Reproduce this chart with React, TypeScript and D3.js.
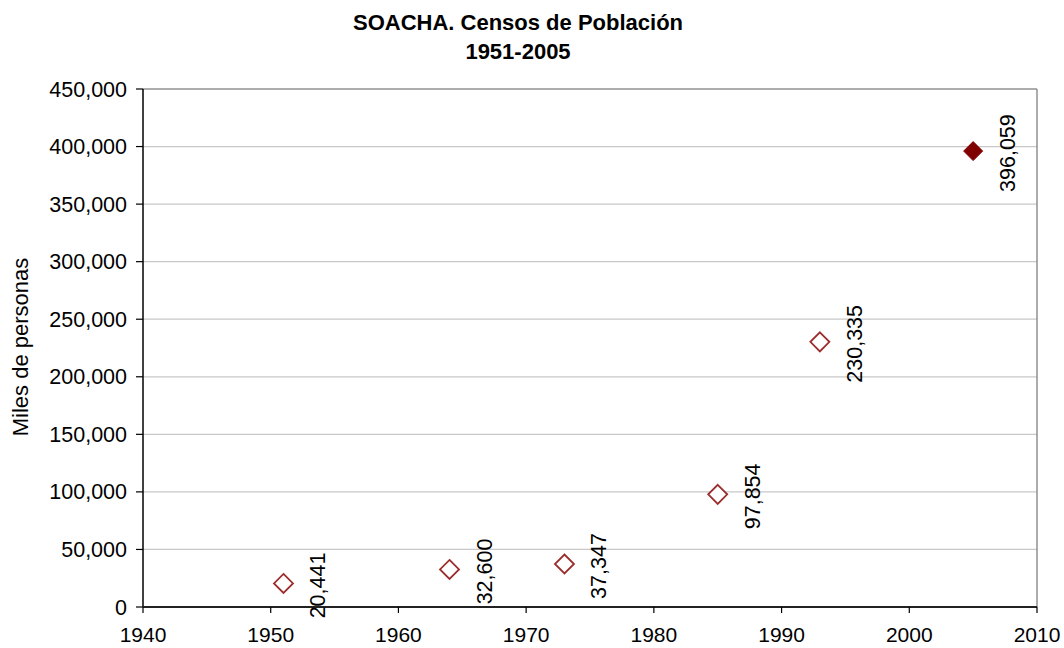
import React from "react";
import * as d3 from "d3";

const years = [1951, 1964, 1973, 1985, 1993, 2005];
const population = [20441, 32600, 37347, 97854, 230335, 396059];
const highlighted = [false, false, false, false, false, true];
const xTicks = [1940, 1950, 1960, 1970, 1980, 1990, 2000, 2010];
const yTicks = [0, 50000, 100000, 150000, 200000, 250000, 300000, 350000, 400000, 450000];
const titleLines = ["SOACHA. Censos de Población", "1951-2005"];
const yAxisTitle = "Miles de personas";

export default function App() {
  const W = 1064, H = 648;
  const left = 143, right = 1037, top = 89, bottom = 607;
  const x = d3.scaleLinear().domain([1940, 2010]).range([left, right]);
  const y = d3.scaleLinear().domain([0, 450000]).range([bottom, top]);
  const fmt = d3.format(",");
  const font = "Liberation Sans, Arial, sans-serif";
  const dpath = (cx: number, cy: number, r: number) =>
    `M${cx},${cy - r}L${cx + r},${cy}L${cx},${cy + r}L${cx - r},${cy}Z`;
  return (
    <svg width={W} height={H} style={{ position: "absolute", left: 0, top: 0, background: "#fff" }} fontFamily={font}>
      <rect x={0} y={0} width={W} height={H} fill="#fff" />
      {titleLines.map((t, i) => (
        <text key={i} x={518} y={30 + i * 29} textAnchor="middle" fontWeight="bold" fontSize={22} fill="#000">{t}</text>
      ))}
      {yTicks.map((v) => (
        <g key={v}>
          {v > 0 && <line x1={left} x2={right} y1={y(v)} y2={y(v)} stroke={v === 450000 ? "#909090" : "#c8c8c8"} strokeWidth={v === 450000 ? 1.5 : 1.2} />}
          <line x1={left - 7} x2={left} y1={y(v)} y2={y(v)} stroke="#000" strokeWidth={1.2} />
          <text x={127} y={y(v)} dy="0.35em" textAnchor="end" fontSize={21.5} fill="#000">{fmt(v)}</text>
        </g>
      ))}
      <line x1={right} x2={right} y1={top} y2={bottom} stroke="#909090" strokeWidth={1.5} />
      <line x1={left} x2={left} y1={top} y2={bottom} stroke="#000" strokeWidth={1.5} />
      <line x1={left} x2={right} y1={bottom} y2={bottom} stroke="#222" strokeWidth={2} />
      {xTicks.map((t) => (
        <g key={t}>
          <line x1={x(t)} x2={x(t)} y1={bottom} y2={bottom + 6} stroke="#000" strokeWidth={1.2} />
          <text x={x(t)} y={642} textAnchor="middle" fontSize={21} fill="#000">{t}</text>
        </g>
      ))}
      <text transform={`translate(28,347) rotate(-90)`} textAnchor="middle" fontSize={22} fill="#000">{yAxisTitle}</text>
      {years.map((yr, i) => {
        const cx = x(yr), cy = y(population[i]);
        return (
          <g key={yr}>
            <path d={dpath(cx, cy, 9.5)} fill={highlighted[i] ? "#800000" : "#fff"} stroke={highlighted[i] ? "#800000" : "#9b2d2d"} strokeWidth={highlighted[i] ? 1 : 1.8} />
            <text transform={`translate(${cx + 35},${cy + 2}) rotate(-90)`} textAnchor="middle" dominantBaseline="central" fontSize={21.5} fill="#000">{fmt(population[i])}</text>
          </g>
        );
      })}
    </svg>
  );
}
